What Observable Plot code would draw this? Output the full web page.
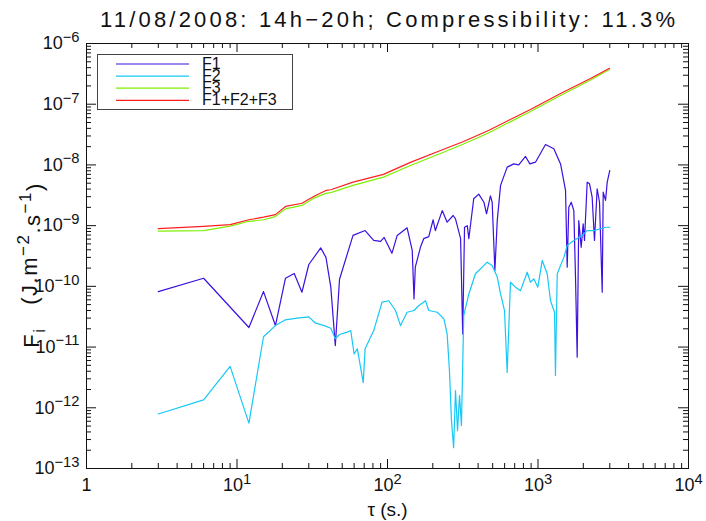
<!DOCTYPE html>
<html><head><meta charset="utf-8">
<script src="https://cdn.jsdelivr.net/npm/d3@7"></script>
<script src="https://cdn.jsdelivr.net/npm/@observablehq/plot@0.6"></script>
<style>body{margin:0;background:#fff;} svg{display:block}</style>
</head><body><div id="chart"></div>
<script>
const title = "11/08/2008: 14h\u221220h; Compressibility: 11.3%";
const seriesNames = ["F1", "F2", "F3", "F1+F2+F3"];
const seriesColors = ["#3c10e0", "#16c8f5", "#7ef000", "#ff1e1e"];
const xLabel = "\u03c4 (s.)";

const xMajor = [1, 10, 100, 1000, 10000];
const xTickLabels = ["1", "10^1", "10^2", "10^3", "10^4"];
const yMajor = [1e-13, 1e-12, 1e-11, 1e-10, 1e-9, 1e-8, 1e-7, 1e-6];
const yTickLabels = ["10^\u221213", "10^\u221212", "10^\u221211", "10^\u221210", "10^\u22129", "10^\u22128", "10^\u22127", "10^\u22126"];

const f1Tau = [3,6,12,15,18,21,24,27,30,36,39,42,45,48,59,71,81,90,95,107,116,135,146,150,153,166,174,188,201,208,231,249,273,283,306,316,325,339,347,374,404,437,455,483,496,517,536,564,624,690,745,826,883,962,1122,1274,1412,1524,1563,1602,1663,1730,1775,1821,1866,1936,1996,2037,2122,2198,2290,2373,2472,2563,2671,2712,2811,2884,3000];
const f1Val = [8.2e-11,1.36e-10,2.1e-11,8.2e-11,2.26e-11,1.36e-10,1.63e-10,8.0e-11,2.29e-10,4.3e-10,3.0e-10,9.7e-11,1.06e-11,1.31e-10,6.9e-10,8.3e-10,5.7e-10,5.5e-10,6.4e-10,3.5e-10,6.9e-10,9.2e-10,3.9e-10,6.2e-11,2.07e-10,4.5e-10,6.1e-10,6.6e-10,1.25e-9,8.3e-10,1.77e-9,1.14e-9,1.47e-9,1.29e-9,6.1e-10,1.65e-11,9.4e-10,1.0e-9,6.1e-10,2.77e-9,3.3e-9,2.43e-9,1.57e-9,3.1e-9,2.43e-9,1.82e-10,1.21e-9,4.6e-9,9.2e-9,1.04e-8,1.0e-8,1.38e-8,1.04e-8,1.11e-8,2.17e-8,1.85e-8,1.04e-8,3.8e-9,2.07e-10,2.01e-9,2.43e-9,1.77e-9,1.42e-10,6.8e-12,1.21e-9,4.4e-10,1.07e-9,5.7e-10,5.2e-9,4.9e-9,2.94e-9,5.7e-10,4.05e-9,2.43e-9,8.0e-11,3.56e-9,2.6e-9,5.2e-9,8.1e-9];

const f2Tau = [3,6,9,12,15,18,21,25,30,33,38,42,45,48,54,57,60,63,69,71,81,92,102,113,122,135,150,161,179,188,214,237,249,258,266,275,283,292,301,310,321,347,384,426,460,496,536,564,599,624,656,708,765,848,891,938,997,1067,1151,1211,1288,1306,1342,1485,1563,1730,1967,2122,2350,2601,2811,3000];
const f2Val = [7.9e-13,1.35e-12,4.8e-12,5.6e-13,1.48e-11,2.26e-11,2.81e-11,2.99e-11,3.15e-11,2.51e-11,2.26e-11,2.04e-11,1.37e-11,1.61e-11,1.76e-11,1.87e-11,7.7e-12,9.4e-12,2.6e-12,9.4e-12,1.87e-11,5.5e-11,5.8e-11,4.0e-11,2.26e-11,3.75e-11,4.0e-11,4.8e-11,5.8e-11,4.0e-11,3.75e-11,2.92e-11,1.65e-11,4.1e-12,6.2e-13,2.2e-13,1.92e-12,4.2e-13,1.59e-12,5.1e-13,3.3e-11,7.5e-11,1.61e-10,2.07e-10,2.5e-10,2.2e-10,1.42e-10,7.5e-11,4.0e-11,3.8e-12,1.17e-10,9.7e-11,8.5e-11,1.71e-10,1.17e-10,1.33e-10,9.7e-11,2.67e-10,1.61e-10,5.8e-11,3.75e-11,3.4e-12,1.61e-10,3.0e-10,4.7e-10,5.7e-10,6.9e-10,8.3e-10,8.3e-10,8.9e-10,9.4e-10,9.4e-10];

const f3Tau = [3,6,9,12,15,18,21,27,33,39,42,59,94,142,225,320,469,891,1412,2233,2985];
const f3Val = [8.1e-10,8.3e-10,9.8e-10,1.18e-9,1.25e-9,1.41e-9,1.89e-9,2.15e-9,2.9e-9,3.4e-9,3.5e-9,4.6e-9,6.3e-9,9.8e-9,1.54e-8,2.21e-8,3.36e-8,7.6e-8,1.39e-7,2.5e-7,3.73e-7];

const sumTau = [3,6,9,12,15,18,21,27,33,39,42,59,94,142,225,320,469,891,1412,2233,2985];
const sumVal = [8.9e-10,9.7e-10,1.04e-9,1.25e-9,1.38e-9,1.52e-9,2.07e-9,2.34e-9,3.1e-9,3.8e-9,3.9e-9,5.2e-9,7.0e-9,1.10e-8,1.73e-8,2.43e-8,3.7e-8,8.2e-8,1.5e-7,2.65e-7,3.9e-7];

// ---- build table ----
const rows = [];
[[f1Tau, f1Val], [f2Tau, f2Val], [f3Tau, f3Val], [sumTau, sumVal]].forEach(([t, v], k) => {
  t.forEach((tau, i) => rows.push({series: seriesNames[k], tau, value: v[i]}));
});

const W = 706, H = 521, mL = 86, mR = 18, mT = 43, mB = 53;
const fw = W - mL - mR, fh = H - mT - mB;

function minorTicks(lo, hi) {
  const out = [];
  for (let e = lo; e < hi; e++) for (let m = 2; m <= 9; m++) out.push(m * Math.pow(10, e));
  return out;
}
const xMinor = minorTicks(0, 4);
const yMinor = minorTicks(-13, -6);
const xLabelMap = new Map(xMajor.map((v, i) => [v, xTickLabels[i]]));
const yLabelMap = new Map(yMajor.map((v, i) => [v, yTickLabels[i]]));

const font = "'Liberation Sans', Arial, sans-serif";
const plot = Plot.plot({
  width: W, height: H,
  marginLeft: mL, marginRight: mR, marginTop: mT, marginBottom: mB,
  style: {fontFamily: font, fontSize: "17px", color: "#111", background: "#fff"},
  x: {type: "log", domain: [1, 1e4]},
  y: {type: "log", domain: [1e-13, 1e-6]},
  color: {domain: seriesNames, range: seriesColors},
  marks: [
    Plot.line(rows, {x: "tau", y: "value", z: "series", stroke: "series", strokeWidth: 1.2}),
    // inward ticks
    Plot.ruleX(xMajor.slice(1, -1), {insetTop: fh - 9, stroke: "#111"}),
    Plot.ruleX(xMajor.slice(1, -1), {insetBottom: fh - 9, stroke: "#111"}),
    Plot.ruleX(xMinor, {insetTop: fh - 5, stroke: "#111"}),
    Plot.ruleX(xMinor, {insetBottom: fh - 5, stroke: "#111"}),
    Plot.ruleY(yMajor.slice(1, -1), {insetRight: fw - 10, stroke: "#111"}),
    Plot.ruleY(yMajor.slice(1, -1), {insetLeft: fw - 10, stroke: "#111"}),
    Plot.ruleY(yMinor, {insetRight: fw - 5, stroke: "#111"}),
    Plot.ruleY(yMinor, {insetLeft: fw - 5, stroke: "#111"}),
    Plot.frame({stroke: "#111"}),
    Plot.axisX({ticks: xMajor, tickSize: 0, tickPadding: 10, tickFormat: d => xLabelMap.get(d), label: null, fontSize: 18}),
    Plot.axisY({ticks: yMajor, tickSize: 0, tickPadding: 7, tickFormat: d => yLabelMap.get(d), label: null, fontSize: 18}),
    Plot.text([xLabel], {frameAnchor: "bottom", dy: 47, lineAnchor: "bottom", fontSize: 19}),
    Plot.text([title], {frameAnchor: "top", dy: -17, lineAnchor: "bottom", fontSize: 22})
  ]
});

document.getElementById("chart").appendChild(plot);
const svg = d3.select(plot);

// superscript tick labels
svg.selectAll('g[aria-label$="tick label"] text').each(function () {
  const s = this.textContent;
  const m = s.match(/^(.*)\^(.*)$/);
  if (!m) return;
  const t = d3.select(this);
  t.text(null);
  t.append("tspan").text(m[1]);
  t.append("tspan").attr("dy", "-0.5em").attr("font-size", "0.82em").text(m[2]);
});

// stretch title to reference width
svg.selectAll("text").filter(function () { return this.textContent === title; })
  .attr("textLength", 575).attr("lengthAdjust", "spacing");

// y-axis label with sub/superscripts
const yl = svg.append("text")
  .attr("transform", `translate(39,${265}) rotate(-90)`)
  .attr("text-anchor", "middle")
  .style("font-family", font).style("font-size", "22px").style("letter-spacing", "1.5px")
  .attr("fill", "#111")
  .style("white-space", "pre");
yl.append("tspan").text("F");
yl.append("tspan").attr("dy", "0.35em").style("font-size", "17px").text("i");
yl.append("tspan").attr("dy", "-0.35em").text("   (J.m");
yl.append("tspan").attr("dy", "-0.5em").style("font-size", "17px").text("\u22122");
yl.append("tspan").attr("dy", "0.5em").text(".s");
yl.append("tspan").attr("dy", "-0.5em").style("font-size", "17px").text("\u22121");
yl.append("tspan").attr("dy", "0.5em").text(")");

// legend
const lg = svg.append("g");
lg.append("rect").attr("x", 97.5).attr("y", 54.5).attr("width", 195).attr("height", 55)
  .attr("fill", "#fff").attr("stroke", "#444");
seriesNames.forEach((name, i) => {
  const y = 64 + i * 12.1;
  lg.append("line").attr("x1", 116).attr("x2", 189).attr("y1", y).attr("y2", y)
    .attr("stroke", seriesColors[i]).attr("stroke-width", 1.2);
  lg.append("text").attr("x", 202).attr("y", y + 4.5).attr("text-anchor", "start")
    .attr("font-family", font).attr("font-size", 16).attr("fill", "#111").text(name);
});
</script></body></html>
